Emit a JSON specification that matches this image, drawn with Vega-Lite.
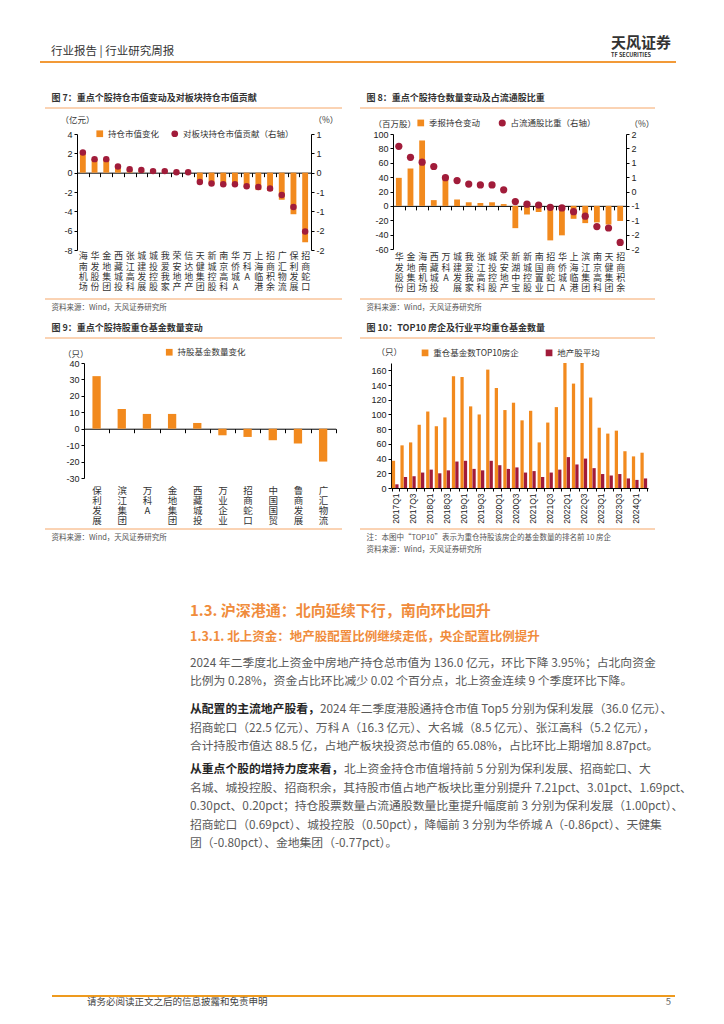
{
"$schema": "https://vega.github.io/schema/vega-lite/v6.json",
"padding": 0,
"background": "white",
"bounds": "flush",
"spacing": 0,
"resolve": {"scale": {"color": "independent"}, "legend": {"color": "independent"}},
"config": {
 "view": {"stroke": null},
 "font": "Noto Sans CJK SC",
 "concat": {"spacing": 0},
 "axis": {"grid": false, "domainColor": "#000000", "tickColor": "#000000", "labelColor": "#222222", "titleFontWeight": "normal", "titleColor": "#333333", "titleFontSize": 8.5, "labelFontSize": 9, "domainWidth": 1, "tickWidth": 1},
 "legend": {"labelFontSize": 8.5, "labelColor": "#333333", "padding": 0, "labelOffset": 4, "symbolStrokeWidth": 0},
 "title": {"font": "Noto Sans CJK SC"}
},
"vconcat": [
 {"width": 10, "height": 62, "data": {"values": []}, "mark": "point"},
 {"hconcat": [
   {"width": 40, "height": 1, "data": {"values": []}, "mark": "point"},
   {"width": 530, "height": 1, "data": {"values": [{"element": "rule"}]}, "mark": {"type": "rule", "color": "#F29A38", "strokeWidth": 2},
    "encoding": {"x": {"datum": 0, "type": "quantitative", "scale": {"domain": [0, 1]}, "axis": null}, "x2": {"datum": 1}, "y": {"datum": 1, "type": "quantitative", "scale": {"domain": [0, 1]}, "axis": null}},
    "title": {"text": "行业报告 | 行业研究周报", "anchor": "start", "dx": 12, "offset": 4, "fontSize": 11.5, "fontWeight": "normal", "color": "#333333"}},
   {"width": 106, "height": 1, "data": {"values": [{"element": "rule"}]}, "mark": {"type": "rule", "color": "#F29A38", "strokeWidth": 2},
    "encoding": {"x": {"datum": 0, "type": "quantitative", "scale": {"domain": [0, 1]}, "axis": null}, "x2": {"datum": 1}, "y": {"datum": 1, "type": "quantitative", "scale": {"domain": [0, 1]}, "axis": null}},
    "title": {"text": "天风证券", "subtitle": "TF SECURITIES", "anchor": "start", "dx": 42, "offset": 3, "fontSize": 15, "fontWeight": "bold", "color": "#333333", "subtitleFontSize": 5.5, "subtitleFontWeight": "bold", "subtitleColor": "#333333", "subtitlePadding": 2}}
 ], "spacing": 0, "bounds": "flush"},
 {"width": 10, "height": 45.7, "data": {"values": []}, "mark": "point"},
 {"hconcat": [
   {"width": 45, "height": 1, "data": {"values": []}, "mark": "point"},
   {"width": 297, "height": 1, "data": {"values": [{"element": "rule"}]}, "mark": {"type": "rule", "color": "#F6A768", "strokeWidth": 1},
    "encoding": {"x": {"datum": 0, "type": "quantitative", "scale": {"domain": [0, 1]}, "axis": null}, "x2": {"datum": 1}, "y": {"datum": 1, "type": "quantitative", "scale": {"domain": [0, 1]}, "axis": null}},
    "title": {"text": "图 7：重点个股持仓市值变动及对板块持仓市值贡献", "anchor": "start", "dx": 7, "offset": 5, "fontSize": 9, "fontWeight": "bold", "color": "#333333"}},
   {"width": 18, "height": 1, "data": {"values": []}, "mark": "point"},
   {"width": 295, "height": 1, "data": {"values": [{"element": "rule"}]}, "mark": {"type": "rule", "color": "#F6A768", "strokeWidth": 1},
    "encoding": {"x": {"datum": 0, "type": "quantitative", "scale": {"domain": [0, 1]}, "axis": null}, "x2": {"datum": 1}, "y": {"datum": 1, "type": "quantitative", "scale": {"domain": [0, 1]}, "axis": null}},
    "title": {"text": "图 8：重点个股持仓数量变动及占流通股比重", "anchor": "start", "dx": 7, "offset": 5, "fontSize": 9, "fontWeight": "bold", "color": "#333333"}}
 ], "spacing": 0, "bounds": "flush"},
 {"width": 10, "height": 25.3, "data": {"values": []}, "mark": "point"},
 {"hconcat": [
   {"width": 77, "height": 1, "data": {"values": []}, "mark": "point"},
   {"width": 234, "height": 116,
    "data": {"values": [
     {"name": "海南机场", "value": 2.1, "pct": 0.52},
     {"name": "华发股份", "value": 1.4, "pct": 0.35},
     {"name": "金地集团", "value": 1.4, "pct": 0.35},
     {"name": "西藏城投", "value": 0.6, "pct": 0.16},
     {"name": "张江高科", "value": 0.3, "pct": 0.09},
     {"name": "城建发展", "value": 0.2, "pct": 0.07},
     {"name": "城投控股", "value": 0.1, "pct": 0.04},
     {"name": "我爱我家", "value": 0.1, "pct": 0.04},
     {"name": "荣安地产", "value": 0.05, "pct": 0.01},
     {"name": "信达地产", "value": 0.05, "pct": 0.01},
     {"name": "天健集团", "value": -1.0, "pct": -0.24},
     {"name": "新城控股", "value": -1.2, "pct": -0.28},
     {"name": "南京高科", "value": -1.3, "pct": -0.3},
     {"name": "华侨城A", "value": -1.3, "pct": -0.3},
     {"name": "万科A", "value": -1.5, "pct": -0.35},
     {"name": "上海临港", "value": -1.8, "pct": -0.37},
     {"name": "招商积余", "value": -1.9, "pct": -0.41},
     {"name": "广汇物流", "value": -2.8, "pct": -0.58},
     {"name": "保利发展", "value": -4.3, "pct": -0.89},
     {"name": "招商蛇口", "value": -7.2, "pct": -1.52}
    ]},
    "encoding": {"x": {"field": "name", "type": "nominal", "sort": null, "scale": {"paddingInner": 0, "paddingOuter": 0},
      "axis": {"title": null, "offset": -77.33, "tickBand": "extent", "tickSize": 4, "labelAngle": 0, "labelExpr": "split(datum.label, '')", "labelBaseline": "top", "labelLineHeight": 10.3, "labelPadding": 75.3, "labelFontSize": 9, "labelFont": "Noto Sans CJK SC", "labelColor": "#333333", "labelOverlap": false, "labelBound": false}}},
    "layer": [
     {"mark": {"type": "bar", "width": {"band": 0.5}},
      "encoding": {
       "y": {"field": "value", "type": "quantitative", "scale": {"domain": [-8, 4], "nice": false},
        "axis": {"title": "（亿元）", "titleAngle": 0, "titleX": -17, "titleY": -14.7, "titleAlign": "left", "titleBaseline": "middle", "values": [-8, -6, -4, -2, 0, 2, 4], "labelExpr": "'' + datum.value", "tickSize": 3, "labelPadding": 2, "labelFont": "Liberation Sans"}},
       "color": {"datum": "持仓市值变化", "scale": {"range": ["#F28A1E"]}, "legend": {"title": null, "orient": "none", "legendX": 18.5, "legendY": -4.5, "symbolType": "square", "symbolSize": 45}}}},
     {"mark": {"type": "point", "filled": true, "size": 42, "opacity": 1},
      "encoding": {
       "y": {"field": "pct", "type": "quantitative", "scale": {"domain": [-2, 1], "nice": false},
        "axis": {"orient": "right", "title": "（%）", "titleAngle": 0, "titleX": 2, "titleY": -14.7, "titleAlign": "left", "titleBaseline": "middle", "values": [-2, -1.5, -1, -0.5, 0, 0.5, 1], "labelExpr": "datum.value > 0 ? '' + ceil(datum.value) : (datum.value < 0 ? '-' + ceil(-datum.value) : '0')", "tickSize": 3, "labelPadding": 2, "labelFont": "Liberation Sans"}},
       "color": {"datum": "对板块持仓市值贡献（右轴）", "scale": {"range": ["#A11C3A"]}, "legend": {"title": null, "orient": "none", "legendX": 93.5, "legendY": -4.5, "symbolType": "circle", "symbolSize": 45}}}}
    ],
    "resolve": {"scale": {"y": "independent", "color": "independent"}}},
   {"width": 82, "height": 1, "data": {"values": []}, "mark": "point"},
   {"width": 233, "height": 115,
    "data": {"values": [
     {"name": "华发股份", "value": 39, "pct": 1.57},
     {"name": "金地集团", "value": 52, "pct": 1.19},
     {"name": "海南机场", "value": 91, "pct": 1.02},
     {"name": "西藏城投", "value": 8, "pct": 0.87},
     {"name": "万科A", "value": 38, "pct": 0.48},
     {"name": "城建发展", "value": 9, "pct": 0.38},
     {"name": "我爱我家", "value": 5, "pct": 0.26},
     {"name": "张江高科", "value": 4, "pct": 0.23},
     {"name": "城投控股", "value": 5, "pct": 0.23},
     {"name": "荣安地产", "value": 2.5, "pct": 0.06},
     {"name": "新湖中宝", "value": -31, "pct": -0.35},
     {"name": "新城控股", "value": -12, "pct": -0.44},
     {"name": "南国置业", "value": -8.5, "pct": -0.47},
     {"name": "招商蛇口", "value": -48, "pct": -0.55},
     {"name": "华侨城A", "value": -41, "pct": -0.57},
     {"name": "上海临港", "value": -18, "pct": -0.7},
     {"name": "滨江集团", "value": -24, "pct": -0.86},
     {"name": "南京高科", "value": -23, "pct": -1.22},
     {"name": "天健集团", "value": -26, "pct": -1.27},
     {"name": "招商积余", "value": -21, "pct": -1.77}
    ]},
    "encoding": {"x": {"field": "name", "type": "nominal", "sort": null, "scale": {"paddingInner": 0, "paddingOuter": 0},
      "axis": {"title": null, "offset": -43.13, "tickBand": "extent", "tickSize": 4, "labelAngle": 0, "labelExpr": "split(datum.label, '')", "labelBaseline": "top", "labelLineHeight": 10.3, "labelPadding": 43.1, "labelFontSize": 9, "labelFont": "Noto Sans CJK SC", "labelColor": "#333333", "labelOverlap": false, "labelBound": false}}},
    "layer": [
     {"mark": {"type": "bar", "width": {"band": 0.5}},
      "encoding": {
       "y": {"field": "value", "type": "quantitative", "scale": {"domain": [-60, 100], "nice": false},
        "axis": {"title": "（百万股）", "titleAngle": 0, "titleX": -20, "titleY": -10.3, "titleAlign": "left", "titleBaseline": "middle", "values": [-60, -40, -20, 0, 20, 40, 60, 80, 100], "labelExpr": "'' + datum.value", "tickSize": 3, "labelPadding": 2, "labelFont": "Liberation Sans"}},
       "color": {"datum": "季报持仓变动", "scale": {"range": ["#F28A1E"]}, "legend": {"title": null, "orient": "none", "legendX": 23.5, "legendY": -15.3, "symbolType": "square", "symbolSize": 45}}}},
     {"mark": {"type": "point", "filled": true, "size": 52, "opacity": 1},
      "encoding": {
       "y": {"field": "pct", "type": "quantitative", "scale": {"domain": [-2, 2], "nice": false},
        "axis": {"orient": "right", "title": "（%）", "titleAngle": 0, "titleX": 3, "titleY": -10.3, "titleAlign": "left", "titleBaseline": "middle", "values": [-2, -1.5, -1, -0.5, 0, 0.5, 1, 1.5, 2], "labelExpr": "datum.value > 0 ? '' + ceil(datum.value) : (datum.value < 0 ? '-' + ceil(-datum.value) : '0')", "tickSize": 3, "labelPadding": 2, "labelFont": "Liberation Sans"}},
       "color": {"datum": "占流通股比重（右轴）", "scale": {"range": ["#A11C3A"]}, "legend": {"title": null, "orient": "none", "legendX": 105, "legendY": -15.3, "symbolType": "circle", "symbolSize": 50}}}}
    ],
    "resolve": {"scale": {"y": "independent", "color": "independent"}}}
 ], "spacing": 0, "bounds": "flush", "resolve": {"scale": {"color": "independent"}, "legend": {"color": "independent"}}},
 {"width": 10, "height": 164.7, "data": {"values": []}, "mark": "point"},
 {"hconcat": [
   {"width": 45, "height": 1, "data": {"values": []}, "mark": "point"},
   {"width": 297, "height": 1, "data": {"values": [{"element": "rule"}]}, "mark": {"type": "rule", "color": "#F6A768", "strokeWidth": 1},
    "encoding": {"x": {"datum": 0, "type": "quantitative", "scale": {"domain": [0, 1]}, "axis": null}, "x2": {"datum": 1}, "y": {"datum": 1, "type": "quantitative", "scale": {"domain": [0, 1]}, "axis": null}},
    "title": {"text": "资料来源：Wind，天风证券研究所", "orient": "bottom", "anchor": "start", "dx": 7, "offset": 4, "fontSize": 7.5, "fontWeight": "normal", "color": "#555555"}},
   {"width": 18, "height": 1, "data": {"values": []}, "mark": "point"},
   {"width": 295, "height": 1, "data": {"values": [{"element": "rule"}]}, "mark": {"type": "rule", "color": "#F6A768", "strokeWidth": 1},
    "encoding": {"x": {"datum": 0, "type": "quantitative", "scale": {"domain": [0, 1]}, "axis": null}, "x2": {"datum": 1}, "y": {"datum": 1, "type": "quantitative", "scale": {"domain": [0, 1]}, "axis": null}},
    "title": {"text": "资料来源：Wind，天风证券研究所", "orient": "bottom", "anchor": "start", "dx": 7, "offset": 4, "fontSize": 7.5, "fontWeight": "normal", "color": "#555555"}}
 ], "spacing": 0, "bounds": "flush"},
 {"width": 10, "height": 39, "data": {"values": []}, "mark": "point"},
 {"hconcat": [
   {"width": 45, "height": 1, "data": {"values": []}, "mark": "point"},
   {"width": 297, "height": 1, "data": {"values": [{"element": "rule"}]}, "mark": {"type": "rule", "color": "#F6A768", "strokeWidth": 1},
    "encoding": {"x": {"datum": 0, "type": "quantitative", "scale": {"domain": [0, 1]}, "axis": null}, "x2": {"datum": 1}, "y": {"datum": 1, "type": "quantitative", "scale": {"domain": [0, 1]}, "axis": null}},
    "title": {"text": "图 9：重点个股持股重仓基金数量变动", "anchor": "start", "dx": 7, "offset": 5, "fontSize": 9, "fontWeight": "bold", "color": "#333333"}},
   {"width": 18, "height": 1, "data": {"values": []}, "mark": "point"},
   {"width": 295, "height": 1, "data": {"values": [{"element": "rule"}]}, "mark": {"type": "rule", "color": "#F6A768", "strokeWidth": 1},
    "encoding": {"x": {"datum": 0, "type": "quantitative", "scale": {"domain": [0, 1]}, "axis": null}, "x2": {"datum": 1}, "y": {"datum": 1, "type": "quantitative", "scale": {"domain": [0, 1]}, "axis": null}},
    "title": {"text": "图 10：TOP10 房企及行业平均重仓基金数量", "anchor": "start", "dx": 7, "offset": 5, "fontSize": 9, "fontWeight": "bold", "color": "#333333"}}
 ], "spacing": 0, "bounds": "flush"},
 {"width": 10, "height": 24.3, "data": {"values": []}, "mark": "point"},
 {"hconcat": [
   {"width": 83.3, "height": 1, "data": {"values": []}, "mark": "point"},
   {"width": 251.7, "height": 115,
    "data": {"values": [
     {"name": "保利发展", "change": 32},
     {"name": "滨江集团", "change": 12},
     {"name": "万科A", "change": 9},
     {"name": "金地集团", "change": 9},
     {"name": "西藏城投", "change": 3.5},
     {"name": "万业企业", "change": -4},
     {"name": "招商蛇口", "change": -5},
     {"name": "中国国贸", "change": -7},
     {"name": "鲁商发展", "change": -9},
     {"name": "广汇物流", "change": -20}
    ]},
    "mark": {"type": "bar", "width": {"band": 0.33}},
    "encoding": {
     "x": {"field": "name", "type": "nominal", "sort": null, "scale": {"paddingInner": 0, "paddingOuter": 0},
      "axis": {"title": null, "offset": -49.29, "tickBand": "extent", "tickSize": 4, "labelAngle": 0, "labelExpr": "split(datum.label, '')", "labelBaseline": "top", "labelLineHeight": 10, "labelPadding": 52.3, "labelFontSize": 9.5, "labelFont": "Noto Sans CJK SC", "labelColor": "#333333", "labelOverlap": false, "labelBound": false}},
     "y": {"field": "change", "type": "quantitative", "scale": {"domain": [-30, 40], "nice": false},
      "axis": {"title": "（只）", "titleAngle": 0, "titleX": -21.6, "titleY": -10, "titleAlign": "left", "titleBaseline": "middle", "values": [-30, -20, -10, 0, 10, 20, 30, 40], "labelExpr": "'' + datum.value", "tickSize": 3, "labelPadding": 2, "labelFont": "Liberation Sans"}},
     "color": {"datum": "持股基金数量变化", "scale": {"range": ["#F28A1E"]}, "legend": {"title": null, "orient": "none", "legendX": 81, "legendY": -15, "symbolType": "square", "symbolSize": 45}}}},
   {"width": 54.7, "height": 1, "data": {"values": []}, "mark": "point"},
   {"width": 257, "height": 125,
    "data": {"values": [
     {"q": "2017Q1", "s": "重仓基金数TOP10房企", "n": 37}, {"q": "2017Q1", "s": "地产股平均", "n": 5},
     {"q": "2017Q2", "s": "重仓基金数TOP10房企", "n": 58}, {"q": "2017Q2", "s": "地产股平均", "n": 15},
     {"q": "2017Q3", "s": "重仓基金数TOP10房企", "n": 62}, {"q": "2017Q3", "s": "地产股平均", "n": 16},
     {"q": "2017Q4", "s": "重仓基金数TOP10房企", "n": 86}, {"q": "2017Q4", "s": "地产股平均", "n": 21},
     {"q": "2018Q1", "s": "重仓基金数TOP10房企", "n": 104}, {"q": "2018Q1", "s": "地产股平均", "n": 25},
     {"q": "2018Q2", "s": "重仓基金数TOP10房企", "n": 84}, {"q": "2018Q2", "s": "地产股平均", "n": 20},
     {"q": "2018Q3", "s": "重仓基金数TOP10房企", "n": 96}, {"q": "2018Q3", "s": "地产股平均", "n": 24},
     {"q": "2018Q4", "s": "重仓基金数TOP10房企", "n": 152}, {"q": "2018Q4", "s": "地产股平均", "n": 36},
     {"q": "2019Q1", "s": "重仓基金数TOP10房企", "n": 151}, {"q": "2019Q1", "s": "地产股平均", "n": 37},
     {"q": "2019Q2", "s": "重仓基金数TOP10房企", "n": 111}, {"q": "2019Q2", "s": "地产股平均", "n": 26},
     {"q": "2019Q3", "s": "重仓基金数TOP10房企", "n": 100}, {"q": "2019Q3", "s": "地产股平均", "n": 24},
     {"q": "2019Q4", "s": "重仓基金数TOP10房企", "n": 161}, {"q": "2019Q4", "s": "地产股平均", "n": 37},
     {"q": "2020Q1", "s": "重仓基金数TOP10房企", "n": 136}, {"q": "2020Q1", "s": "地产股平均", "n": 31},
     {"q": "2020Q2", "s": "重仓基金数TOP10房企", "n": 106}, {"q": "2020Q2", "s": "地产股平均", "n": 26},
     {"q": "2020Q3", "s": "重仓基金数TOP10房企", "n": 116}, {"q": "2020Q3", "s": "地产股平均", "n": 28},
     {"q": "2020Q4", "s": "重仓基金数TOP10房企", "n": 92}, {"q": "2020Q4", "s": "地产股平均", "n": 21},
     {"q": "2021Q1", "s": "重仓基金数TOP10房企", "n": 105}, {"q": "2021Q1", "s": "地产股平均", "n": 23},
     {"q": "2021Q2", "s": "重仓基金数TOP10房企", "n": 62}, {"q": "2021Q2", "s": "地产股平均", "n": 15},
     {"q": "2021Q3", "s": "重仓基金数TOP10房企", "n": 89}, {"q": "2021Q3", "s": "地产股平均", "n": 21},
     {"q": "2021Q4", "s": "重仓基金数TOP10房企", "n": 110}, {"q": "2021Q4", "s": "地产股平均", "n": 25},
     {"q": "2022Q1", "s": "重仓基金数TOP10房企", "n": 172}, {"q": "2022Q1", "s": "地产股平均", "n": 42},
     {"q": "2022Q2", "s": "重仓基金数TOP10房企", "n": 142}, {"q": "2022Q2", "s": "地产股平均", "n": 32},
     {"q": "2022Q3", "s": "重仓基金数TOP10房企", "n": 171}, {"q": "2022Q3", "s": "地产股平均", "n": 40},
     {"q": "2022Q4", "s": "重仓基金数TOP10房企", "n": 123}, {"q": "2022Q4", "s": "地产股平均", "n": 27},
     {"q": "2023Q1", "s": "重仓基金数TOP10房企", "n": 82}, {"q": "2023Q1", "s": "地产股平均", "n": 19},
     {"q": "2023Q2", "s": "重仓基金数TOP10房企", "n": 74}, {"q": "2023Q2", "s": "地产股平均", "n": 17},
     {"q": "2023Q3", "s": "重仓基金数TOP10房企", "n": 78}, {"q": "2023Q3", "s": "地产股平均", "n": 19},
     {"q": "2023Q4", "s": "重仓基金数TOP10房企", "n": 50}, {"q": "2023Q4", "s": "地产股平均", "n": 13},
     {"q": "2024Q1", "s": "重仓基金数TOP10房企", "n": 43}, {"q": "2024Q1", "s": "地产股平均", "n": 11},
     {"q": "2024Q2", "s": "重仓基金数TOP10房企", "n": 48}, {"q": "2024Q2", "s": "地产股平均", "n": 13}
    ]},
    "mark": {"type": "bar", "clip": true},
    "encoding": {
     "x": {"field": "q", "type": "nominal", "sort": null, "scale": {"paddingInner": 0.22, "paddingOuter": 0.1},
      "axis": {"title": null, "labelAngle": -90, "labelAlign": "right", "labelBaseline": "middle", "labelExpr": "(substring(datum.label, 5, 6) == '1' || substring(datum.label, 5, 6) == '3') ? datum.label : ''", "tickBand": "extent", "tickSize": 3, "labelPadding": 2, "labelFontSize": 8.5, "labelFont": "Liberation Sans", "labelOverlap": false, "labelBound": false}},
     "xOffset": {"field": "s", "type": "nominal", "sort": ["重仓基金数TOP10房企", "地产股平均"], "scale": {"paddingInner": 0.05}},
     "y": {"field": "n", "type": "quantitative", "scale": {"domain": [0, 170], "nice": false},
      "axis": {"title": "（只）", "titleAngle": 0, "titleX": -15, "titleY": -11.7, "titleAlign": "left", "titleBaseline": "middle", "values": [0, 20, 40, 60, 80, 100, 120, 140, 160], "tickSize": 3, "labelPadding": 2, "labelFont": "Liberation Sans"}},
     "color": {"field": "s", "type": "nominal", "sort": ["重仓基金数TOP10房企", "地产股平均"], "scale": {"domain": ["重仓基金数TOP10房企", "地产股平均"], "range": ["#F28A1E", "#A11C3A"]},
      "legend": {"title": null, "orient": "none", "legendX": 29.8, "legendY": -14.5, "direction": "horizontal", "symbolType": "square", "symbolSize": 45, "columnPadding": 26}}}}
 ], "spacing": 0, "bounds": "flush", "resolve": {"scale": {"color": "independent"}, "legend": {"color": "independent"}}},
 {"width": 10, "height": 166, "data": {"values": []}, "mark": "point"},
 {"hconcat": [
   {"width": 45, "height": 1, "data": {"values": []}, "mark": "point"},
   {"width": 297, "height": 1, "data": {"values": [{"element": "rule"}]}, "mark": {"type": "rule", "color": "#F6A768", "strokeWidth": 1},
    "encoding": {"x": {"datum": 0, "type": "quantitative", "scale": {"domain": [0, 1]}, "axis": null}, "x2": {"datum": 1}, "y": {"datum": 1, "type": "quantitative", "scale": {"domain": [0, 1]}, "axis": null}},
    "title": {"text": "资料来源：Wind，天风证券研究所", "orient": "bottom", "anchor": "start", "dx": 7, "offset": 4, "fontSize": 7.5, "fontWeight": "normal", "color": "#555555"}},
   {"width": 18, "height": 1, "data": {"values": []}, "mark": "point"},
   {"width": 295, "height": 1, "data": {"values": [{"element": "rule"}]}, "mark": {"type": "rule", "color": "#F6A768", "strokeWidth": 1},
    "encoding": {"x": {"datum": 0, "type": "quantitative", "scale": {"domain": [0, 1]}, "axis": null}, "x2": {"datum": 1}, "y": {"datum": 1, "type": "quantitative", "scale": {"domain": [0, 1]}, "axis": null}},
    "title": {"text": "注：本图中“TOP10”表示为重仓持股该房企的基金数量的排名前 10 房企", "subtitle": "资料来源：Wind，天风证券研究所", "orient": "bottom", "anchor": "start", "dx": 7, "offset": 4, "fontSize": 7.5, "fontWeight": "normal", "color": "#555555", "subtitleFontSize": 7.5, "subtitleColor": "#555555", "subtitlePadding": 4}}
 ], "spacing": 0, "bounds": "flush"},
 {"width": 10, "height": 74.8, "data": {"values": []}, "mark": "point"},
 {"hconcat": [
   {"width": 190, "height": 1, "data": {"values": []}, "mark": "point"},
   {"width": 480, "height": 26.1, "data": {"values": [{"part": "h1", "text": "1.3. 沪深港通：北向延续下行，南向环比回升"}]},
    "mark": {"type": "text", "align": "left", "baseline": "top", "fontSize": 15, "fontWeight": "bold", "color": "#F08C3C"},
    "encoding": {"text": {"field": "text"}, "x": {"datum": 0, "type": "quantitative", "scale": {"domain": [0, 1]}, "axis": null}, "y": {"datum": 1, "type": "quantitative", "scale": {"domain": [0, 1]}, "axis": null}}}
 ], "spacing": 0, "bounds": "flush"},
 {"width": 10, "height": 26.1, "data": {"values": []}, "mark": "point"},
 {"hconcat": [
   {"width": 190, "height": 1, "data": {"values": []}, "mark": "point"},
   {"width": 480, "height": 26.3, "data": {"values": [{"part": "h2", "text": "1.3.1. 北上资金：地产股配置比例继续走低，央企配置比例提升"}]},
    "mark": {"type": "text", "align": "left", "baseline": "top", "fontSize": 12.5, "fontWeight": "bold", "color": "#F08C3C"},
    "encoding": {"text": {"field": "text"}, "x": {"datum": 0, "type": "quantitative", "scale": {"domain": [0, 1]}, "axis": null}, "y": {"datum": 1, "type": "quantitative", "scale": {"domain": [0, 1]}, "axis": null}}}
 ], "spacing": 0, "bounds": "flush"},
 {"width": 10, "height": 26.3, "data": {"values": []}, "mark": "point"},
 {"hconcat": [
   {"width": 190, "height": 1, "data": {"values": []}, "mark": "point"},
   {"width": 480, "height": 46, "data": {"values": [{"part": "p1", "text": "2024 年二季度北上资金中房地产持仓总市值为 136.0 亿元，环比下降 3.95%；占北向资金\n比例为 0.28%，资金占比环比减少 0.02 个百分点，北上资金连续 9 个季度环比下降。"}]},
    "mark": {"type": "text", "align": "left", "baseline": "top", "fontSize": 11.8, "lineHeight": 18.4, "lineBreak": "\n", "color": "#595959"},
    "encoding": {"text": {"field": "text"}, "x": {"datum": 0, "type": "quantitative", "scale": {"domain": [0, 1]}, "axis": null}, "y": {"datum": 1, "type": "quantitative", "scale": {"domain": [0, 1]}, "axis": null}}}
 ], "spacing": 0, "bounds": "flush"},
 {"width": 10, "height": 46, "data": {"values": []}, "mark": "point"},
 {"hconcat": [
   {"width": 190, "height": 1, "data": {"values": []}, "mark": "point"},
   {"width": 129.8, "height": 18.4, "data": {"values": [{"part": "p2-lead", "text": "从配置的主流地产股看，"}]},
    "mark": {"type": "text", "align": "left", "baseline": "top", "fontSize": 11.8, "fontWeight": "bold", "color": "#262626"},
    "encoding": {"text": {"field": "text"}, "x": {"datum": 0, "type": "quantitative", "scale": {"domain": [0, 1]}, "axis": null}, "y": {"datum": 1, "type": "quantitative", "scale": {"domain": [0, 1]}, "axis": null}}},
   {"width": 350, "height": 18.4, "data": {"values": [{"part": "p2-line1", "text": "2024 年二季度港股通持仓市值 Top5 分别为保利发展（36.0 亿元）、"}]},
    "mark": {"type": "text", "align": "left", "baseline": "top", "fontSize": 11.8, "color": "#595959"},
    "encoding": {"text": {"field": "text"}, "x": {"datum": 0, "type": "quantitative", "scale": {"domain": [0, 1]}, "axis": null}, "y": {"datum": 1, "type": "quantitative", "scale": {"domain": [0, 1]}, "axis": null}}}
 ], "spacing": 0, "bounds": "flush"},
 {"width": 10, "height": 18.4, "data": {"values": []}, "mark": "point"},
 {"hconcat": [
   {"width": 190, "height": 1, "data": {"values": []}, "mark": "point"},
   {"width": 480, "height": 40.6, "data": {"values": [{"part": "p2-rest", "text": "招商蛇口（22.5 亿元）、万科 A（16.3 亿元）、大名城（8.5 亿元）、张江高科（5.2 亿元），\n合计持股市值达 88.5 亿，占地产板块投资总市值的 65.08%，占比环比上期增加 8.87pct。"}]},
    "mark": {"type": "text", "align": "left", "baseline": "top", "fontSize": 11.8, "lineHeight": 18.4, "lineBreak": "\n", "color": "#595959"},
    "encoding": {"text": {"field": "text"}, "x": {"datum": 0, "type": "quantitative", "scale": {"domain": [0, 1]}, "axis": null}, "y": {"datum": 1, "type": "quantitative", "scale": {"domain": [0, 1]}, "axis": null}}}
 ], "spacing": 0, "bounds": "flush"},
 {"width": 10, "height": 40.6, "data": {"values": []}, "mark": "point"},
 {"hconcat": [
   {"width": 190, "height": 1, "data": {"values": []}, "mark": "point"},
   {"width": 153.4, "height": 18.4, "data": {"values": [{"part": "p3-lead", "text": "从重点个股的增持力度来看，"}]},
    "mark": {"type": "text", "align": "left", "baseline": "top", "fontSize": 11.8, "fontWeight": "bold", "color": "#262626"},
    "encoding": {"text": {"field": "text"}, "x": {"datum": 0, "type": "quantitative", "scale": {"domain": [0, 1]}, "axis": null}, "y": {"datum": 1, "type": "quantitative", "scale": {"domain": [0, 1]}, "axis": null}}},
   {"width": 326, "height": 18.4, "data": {"values": [{"part": "p3-line1", "text": "北上资金持仓市值增持前 5 分别为保利发展、招商蛇口、大"}]},
    "mark": {"type": "text", "align": "left", "baseline": "top", "fontSize": 11.8, "color": "#595959"},
    "encoding": {"text": {"field": "text"}, "x": {"datum": 0, "type": "quantitative", "scale": {"domain": [0, 1]}, "axis": null}, "y": {"datum": 1, "type": "quantitative", "scale": {"domain": [0, 1]}, "axis": null}}}
 ], "spacing": 0, "bounds": "flush"},
 {"width": 10, "height": 18.4, "data": {"values": []}, "mark": "point"},
 {"hconcat": [
   {"width": 190, "height": 1, "data": {"values": []}, "mark": "point"},
   {"width": 480, "height": 80, "data": {"values": [{"part": "p3-rest", "text": "名城、城投控股、招商积余，其持股市值占地产板块比重分别提升 7.21pct、3.01pct、1.69pct、\n0.30pct、0.20pct；持仓股票数量占流通股数量比重提升幅度前 3 分别为保利发展（1.00pct）、\n招商蛇口（0.69pct）、城投控股（0.50pct），降幅前 3 分别为华侨城 A（-0.86pct）、天健集\n团（-0.80pct）、金地集团（-0.77pct）。"}]},
    "mark": {"type": "text", "align": "left", "baseline": "top", "fontSize": 11.8, "lineHeight": 18.4, "lineBreak": "\n", "color": "#595959"},
    "encoding": {"text": {"field": "text"}, "x": {"datum": 0, "type": "quantitative", "scale": {"domain": [0, 1]}, "axis": null}, "y": {"datum": 1, "type": "quantitative", "scale": {"domain": [0, 1]}, "axis": null}}}
 ], "spacing": 0, "bounds": "flush"},
 {"width": 10, "height": 212.4, "data": {"values": []}, "mark": "point"},
 {"hconcat": [
   {"width": 52, "height": 1, "data": {"values": []}, "mark": "point"},
   {"width": 560, "height": 1, "data": {"values": [{"element": "rule"}]}, "mark": {"type": "rule", "color": "#EE9A1E", "strokeWidth": 2},
    "encoding": {"x": {"datum": 0, "type": "quantitative", "scale": {"domain": [0, 1]}, "axis": null}, "x2": {"datum": 1}, "y": {"datum": 1, "type": "quantitative", "scale": {"domain": [0, 1]}, "axis": null}},
    "title": {"text": "请务必阅读正文之后的信息披露和免责申明", "orient": "bottom", "anchor": "start", "dx": 36, "offset": 0, "fontSize": 9.5, "fontWeight": "normal", "color": "#444444"}},
   {"width": 63, "height": 1, "data": {"values": [{"element": "rule"}]}, "mark": {"type": "rule", "color": "#EE9A1E", "strokeWidth": 2},
    "encoding": {"x": {"datum": 0, "type": "quantitative", "scale": {"domain": [0, 1]}, "axis": null}, "x2": {"datum": 1}, "y": {"datum": 1, "type": "quantitative", "scale": {"domain": [0, 1]}, "axis": null}},
    "title": {"text": "5", "orient": "bottom", "anchor": "end", "dx": -5, "offset": 0, "fontSize": 9.5, "fontWeight": "normal", "color": "#666666"}}
 ], "spacing": 0, "bounds": "flush"},
 {"width": 10, "height": 34, "data": {"values": []}, "mark": "point"}
]
}
